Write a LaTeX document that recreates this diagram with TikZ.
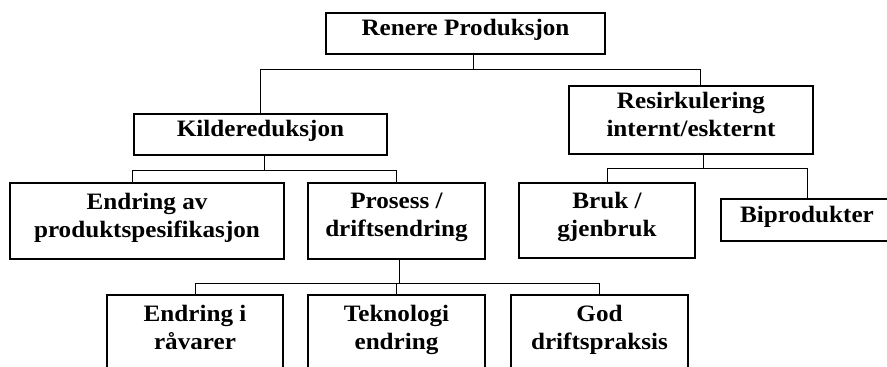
\documentclass[tikz,border=0pt]{standalone}
\usepackage{fontspec}
\setmainfont{Liberation Serif}[FakeStretch=1.07]
\usepackage{tikz}

\newcommand{\linjestrut}{\rule[-12pt]{0pt}{28pt}}

\begin{document}
\begin{tikzpicture}[x=1pt,y=-1pt,
  boks/.style={draw, line width=2.8pt, inner sep=0pt, align=center,
    font=\bfseries\fontsize{23.5}{28}\selectfont,
    execute at begin node=\linjestrut, execute at end node=\linjestrut},
  linje/.style={line width=1pt}]
\useasboundingbox (0,0) rectangle (887,367);
\clip (0,0) rectangle (887,367);

\node [boks, minimum width=279, minimum height=41] (renere) at (465.5,33.5) {Renere Produksjon};
\node [boks, minimum width=253, minimum height=41] (kilde) at (260.5,134.5) {Kildereduksjon};
\node [boks, minimum width=244, minimum height=68] (resirk) at (691,120) {Resirkulering\\internt/eskternt};
\node [boks, minimum width=274, minimum height=76] (endav) at (147,221) {Endring av\\produktspesifikasjon};
\node [boks, minimum width=177, minimum height=76] (prosess) at (396.5,221) {Prosess /\\driftsendring};
\node [boks, minimum width=176, minimum height=75] (bruk) at (607,220.5) {Bruk /\\gjenbruk};
\node [boks, minimum width=172, minimum height=42] (biprod) at (807,220) {Biprodukter};
\node [boks, minimum width=176, minimum height=76] (endi) at (195,333) {Endring i\\råvarer};
\node [boks, minimum width=177, minimum height=76] (tekno) at (396.5,333) {Teknologi\\endring};
\node [boks, minimum width=177, minimum height=76] (god) at (599.5,333) {God\\driftspraksis};

% Renere Produksjon
\coordinate (bus1) at (473,69);
\draw [linje] (bus1 |- renere.south) -- (bus1);
\draw [linje] (bus1) -| (kilde.north);
\draw [linje] (bus1) -| ([xshift=9]resirk.north);

% Kildereduksjon
\coordinate (bus2) at (264,170);
\draw [linje] (bus2 |- kilde.south) -- (bus2);
\draw [linje] (bus2) -| (endav.north -| kilde.west);
\draw [linje] (bus2) -| (prosess.north);

% Resirkulering
\coordinate (bus3) at (703,168);
\draw [linje] (bus3 |- resirk.south) -- (bus3);
\draw [linje] (bus3) -| (bruk.north);
\draw [linje] (bus3) -| (biprod.north);

% Prosess / driftsendring
\coordinate (bus4) at (399,283);
\draw [linje] (bus4 |- prosess.south) -- (bus4);
\draw [linje] (bus4) -| (endi.north);
\draw [linje] (bus4) -| (tekno.north);
\draw [linje] (bus4) -| (god.north);

\end{tikzpicture}
\end{document}
